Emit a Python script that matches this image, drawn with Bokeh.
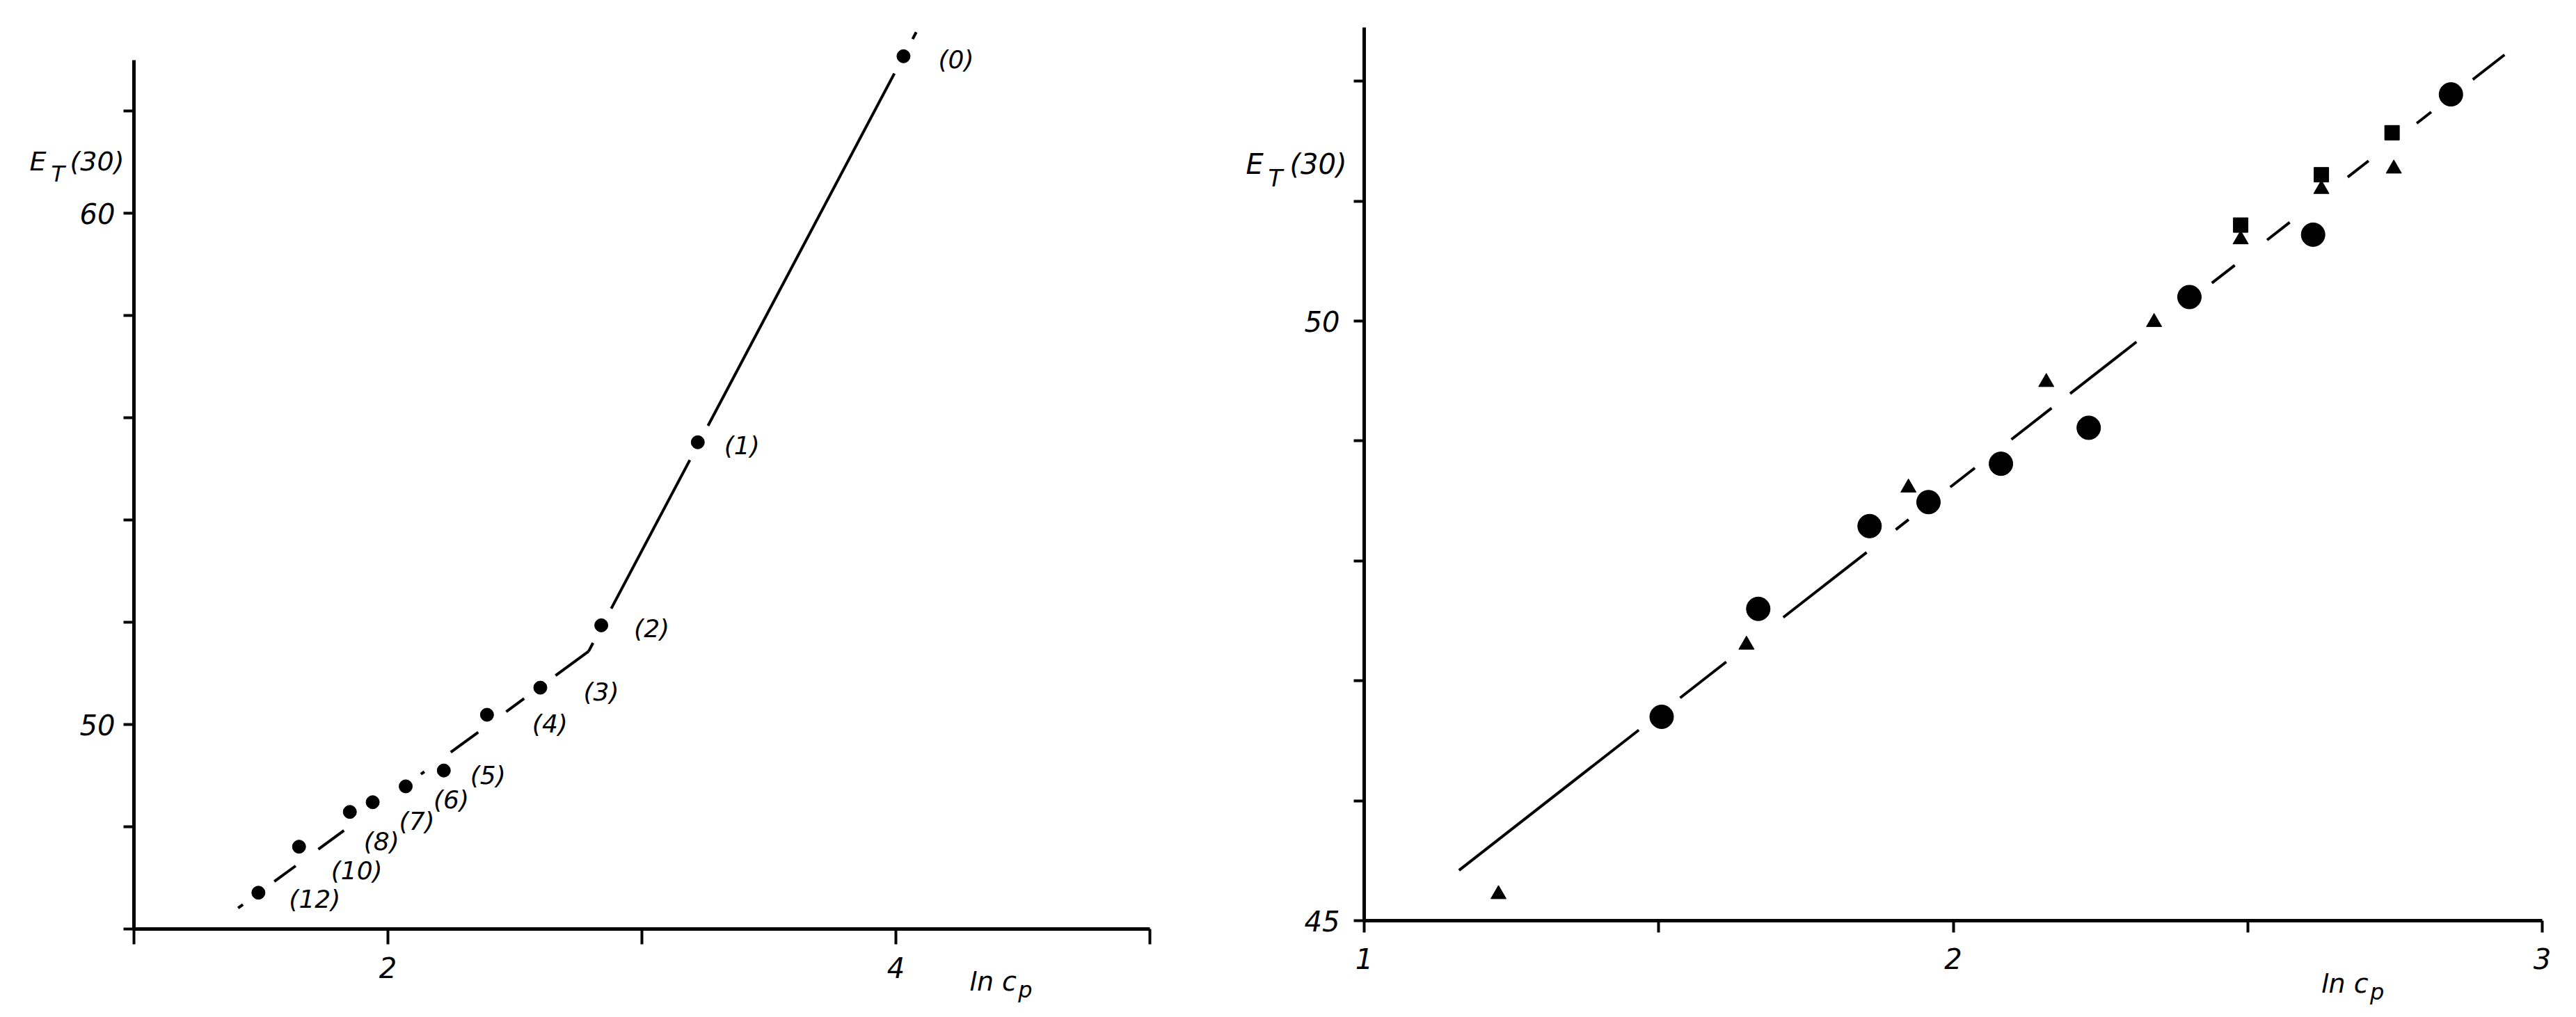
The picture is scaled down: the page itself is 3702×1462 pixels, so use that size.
from bokeh.plotting import figure
from bokeh.layouts import row
from bokeh.models import Range1d, FixedTicker, Label, ColumnDataSource
from bokeh.core.properties import value
from bokeh.embed import file_html
from bokeh.resources import INLINE

# ---------------- data: left panel ----------------
left_x = [4.03, 3.22, 2.84, 2.60, 2.39, 2.22, 2.07, 1.94, 1.85, 1.65, 1.49]
left_y = [63.07, 55.52, 51.94, 50.72, 50.19, 49.10, 48.79, 48.48, 48.29, 47.61, 46.71]
left_labels = ["(0)", "(1)", "(2)", "(3)", "(4)", "(5)", "(6)", "(7)", "(8)", "(10)", "(12)"]
left_fit_x = [1.41, 2.79, 4.08]
left_fit_y = [46.41, 51.43, 63.54]
left_xticks = [1, 2, 3, 4, 5]
left_xtick_labels = ["", "2", "", "4", ""]
left_yticks = [46, 48, 50, 52, 54, 56, 58, 60, 62]
left_ytick_labels = ["", "", "50", "", "", "", "", "60", ""]

# ---------------- data: right panel ----------------
circle_x = [1.505, 1.669, 1.858, 1.958, 2.081, 2.230, 2.401, 2.611, 2.845]
circle_y = [46.70, 47.60, 48.29, 48.49, 48.81, 49.11, 50.20, 50.72, 51.89]
tri_x = [1.228, 1.649, 1.924, 2.158, 2.341, 2.488, 2.625, 2.748]
tri_y = [45.22, 47.30, 48.61, 49.49, 49.99, 50.68, 51.10, 51.27]
sq_x = [2.488, 2.625, 2.745]
sq_y = [50.80, 51.22, 51.57]
right_fit_x = [1.161, 2.936]
right_fit_y = [45.42, 52.22]
right_xticks = [1, 1.5, 2, 2.5, 3]
right_xtick_labels = ["1", "", "2", "", "3"]
right_yticks = [45, 46, 47, 48, 49, 50, 51, 52]
right_ytick_labels = ["45", "", "", "", "", "50", "", ""]

# ---------------- styling / layout ----------------
FONT = "DejaVu Sans"
lab_dx = [50, 38, 47, 62, 65, 38, 40, 38, 20, 46, 44]
lab_dy = [5, 5, 5, 6, 13, 7, 19, 27, 42, 34, 9]


def gapped(lx, ly, px, py, sx, sy, R):
    """Split a polyline into pieces, leaving a gap of radius R (px) round each marker."""
    xs_out, ys_out = [], []
    for i in range(len(lx) - 1):
        x0, y0 = lx[i] * sx, ly[i] * sy
        x1, y1 = lx[i + 1] * sx, ly[i + 1] * sy
        dx, dy = x1 - x0, y1 - y0
        a = dx * dx + dy * dy
        cuts = []
        for cx, cy in zip(px, py):
            fx, fy = x0 - cx * sx, y0 - cy * sy
            b = 2 * (dx * fx + dy * fy)
            c = fx * fx + fy * fy - R * R
            disc = b * b - 4 * a * c
            if disc <= 0:
                continue
            sq = disc ** 0.5
            t1 = max((-b - sq) / (2 * a), 0.0)
            t2 = min((-b + sq) / (2 * a), 1.0)
            if t1 < t2:
                cuts.append((t1, t2))
        cuts.sort()
        t = 0.0
        keep = []
        for c1, c2 in cuts:
            if c1 > t:
                keep.append((t, c1))
            t = max(t, c2)
        if t < 1:
            keep.append((t, 1.0))
        for ta, tb in keep:
            xs_out.append([lx[i] + ta * (lx[i + 1] - lx[i]), lx[i] + tb * (lx[i + 1] - lx[i])])
            ys_out.append([ly[i] + ta * (ly[i + 1] - ly[i]), ly[i] + tb * (ly[i + 1] - ly[i])])
    return xs_out, ys_out


def style_axis(ax, ticks, labels, bounds, tick_out, standoff, size, loc):
    ax.fixed_location = loc
    ax.ticker = FixedTicker(ticks=ticks)
    ax.major_label_overrides = {t: l for t, l in zip(ticks, labels)}
    ax.bounds = bounds
    ax.axis_line_width = 5
    ax.axis_line_color = "black"
    ax.major_tick_line_width = 4
    ax.major_tick_line_color = "black"
    ax.major_tick_out = tick_out
    ax.major_tick_in = 0
    ax.minor_tick_out = 0
    ax.minor_tick_in = 0
    ax.major_label_standoff = standoff
    ax.major_label_text_font = FONT
    ax.major_label_text_font_style = "italic"
    ax.major_label_text_font_size = size
    ax.major_label_text_color = "black"


def add_text(p, x, y, text, size):
    p.add_layout(Label(x=x, y=y, text=text,
                       text_font=FONT, text_font_style="italic",
                       text_font_size=size, text_color="black",
                       text_baseline="alphabetic", text_align="left"))


def base_fig(xr, yr, w, h):
    p = figure(x_range=Range1d(*xr), y_range=Range1d(*yr),
               frame_width=w, frame_height=h,
               min_border_left=0, min_border_right=0,
               min_border_top=0, min_border_bottom=0,
               output_backend="svg", toolbar_location=None)
    p.xgrid.visible = False
    p.ygrid.visible = False
    p.outline_line_color = None
    p.background_fill_color = "white"
    p.border_fill_color = "white"
    return p


# ---------------- left panel ----------------
L_W, L_H = 1760, 1445          # figure (= frame) size in px
sx1, sy1 = 365.0, 73.5         # px per data unit
L_ORG_X, L_ORG_Y = 192, 1335   # px position of the axes' origin (1, 46) from top-left
LX = (1 - L_ORG_X / sx1, 1 + (L_W - L_ORG_X) / sx1)
LY = (46 - (L_H - L_ORG_Y) / sy1, 46 + L_ORG_Y / sy1)
p1 = base_fig(LX, LY, L_W, L_H)
style_axis(p1.xaxis[0], left_xticks, left_xtick_labels, (1, 5), 22, 18, "40px", 46)
style_axis(p1.yaxis[0], left_yticks, left_ytick_labels, (46, 63), 15, 12, "40px", 1)

gx, gy = gapped(left_fit_x, left_fit_y, left_x, left_y, sx1, sy1, 28)
p1.multi_line(xs=gx, ys=gy, line_color="black", line_width=4)
p1.scatter(left_x, left_y, marker="circle", size=19, fill_color="black", line_color="black")
src = ColumnDataSource(dict(x=left_x, y=left_y, t=left_labels, dx=lab_dx, dy=lab_dy))
p1.text(x="x", y="y", text="t", x_offset="dx", y_offset="dy", source=src,
        text_font=value(FONT), text_font_style="italic", text_font_size="36px",
        text_color="black", text_baseline="middle", text_align="left")

add_text(p1, 1 - 150 / sx1, 61.02, "E", "38px")
add_text(p1, 1 - 119 / sx1, 61.02 - 18 / sy1, "T", "32px")
add_text(p1, 1 - 92 / sx1, 61.02, "(30)", "38px")
add_text(p1, 4.29, 46 - 75 / sy1, "ln c", "38px")
add_text(p1, 4.29 + 70 / sx1, 46 - 87 / sy1, "p", "32px")

# ---------------- right panel ----------------
R_W, R_H = 1923, 1445
sx2, sy2 = 846.5, 172.4
R_ORG_X, R_ORG_Y = 200, 1323
RX = (1 - R_ORG_X / sx2, 1 + (R_W - R_ORG_X) / sx2)
RY = (45 - (R_H - R_ORG_Y) / sy2, 45 + R_ORG_Y / sy2)
p2 = base_fig(RX, RY, R_W, R_H)
style_axis(p2.xaxis[0], right_xticks, right_xtick_labels, (1, 3), 17, 22, "40px", 45)
style_axis(p2.yaxis[0], right_yticks, right_ytick_labels, (45, 52.45), 15, 20, "40px", 1)

allx = circle_x + tri_x + sq_x
ally = circle_y + tri_y + sq_y
gx2, gy2 = gapped(right_fit_x, right_fit_y, allx, ally, sx2, sy2, 38)
p2.multi_line(xs=gx2, ys=gy2, line_color="black", line_width=4)
p2.scatter(circle_x, circle_y, marker="circle", size=34, fill_color="black", line_color="black")
p2.scatter(tri_x, tri_y, marker="triangle", size=22, fill_color="black", line_color="black")
p2.scatter(sq_x, sq_y, marker="square", size=21, fill_color="black", line_color="black")

add_text(p2, 1 - 170 / sx2, 51.31, "E", "40px")
add_text(p2, 1 - 138 / sx2, 51.31 - 20 / sy2, "T", "34px")
add_text(p2, 1 - 107 / sx2, 51.31, "(30)", "40px")
add_text(p2, 2.625, 45 - 90 / sy2, "ln c", "38px")
add_text(p2, 2.625 + 70 / sx2, 45 - 102 / sy2, "p", "32px")

layout = row(p1, p2)
open("out.html", "w").write(file_html(layout, INLINE))
